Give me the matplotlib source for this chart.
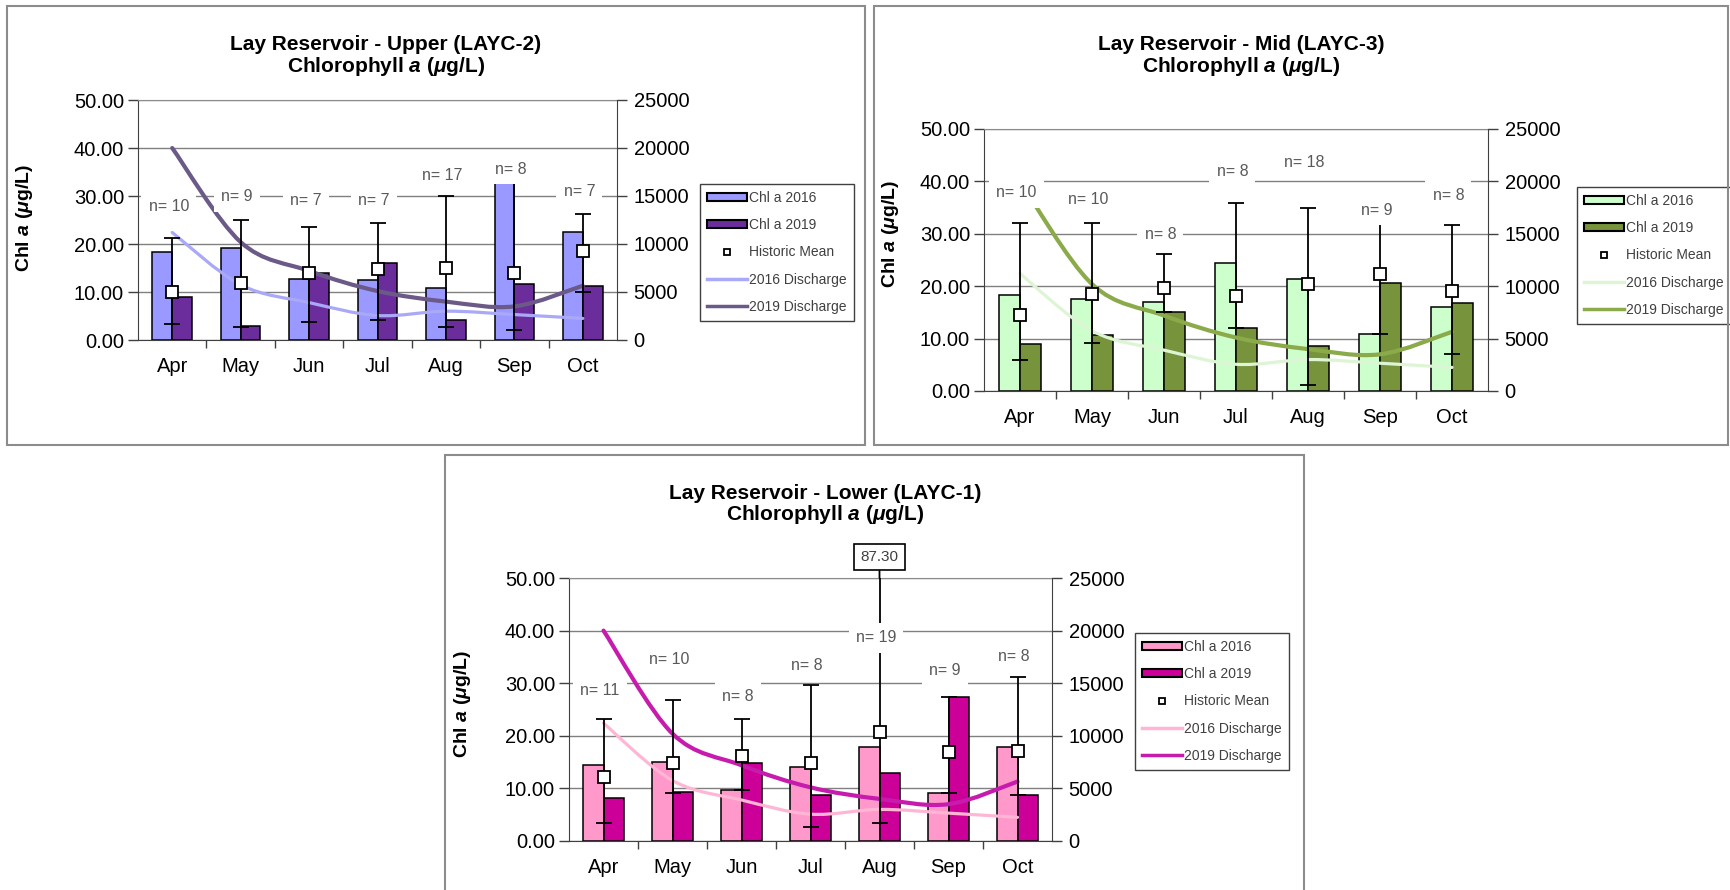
import numpy as np
import matplotlib.pyplot as plt
from matplotlib.path import Path
from matplotlib.patches import PathPatch, Patch, Rectangle
from matplotlib.lines import Line2D
from matplotlib.ticker import FormatStrFormatter

plt.rcParams['font.family'] = ['Liberation Sans', 'DejaVu Sans']
plt.rcParams['mathtext.fontset'] = 'custom'
plt.rcParams['mathtext.rm'] = 'Liberation Sans:bold'
plt.rcParams['mathtext.it'] = 'Liberation Sans:italic:bold'
plt.rcParams['mathtext.bf'] = 'Liberation Sans:bold'

months = ['Apr', 'May', 'Jun', 'Jul', 'Aug', 'Sep', 'Oct']

# monthly discharge (cfs), same dam release for every station
q2016 = [11200, 5750, 3900, 2550, 3000, 2650, 2250]
q2019 = [20000, 10200, 7200, 5100, 4000, 3500, 5650]

# LAYC-2 upper
up_2016 = [18.3, 19.1, 12.8, 12.4, 10.8, 32.8, 22.4]
up_2019 = [8.9, 2.9, 14.0, 16.1, 4.2, 11.7, 11.3]
up_mean = [10.1, 11.9, 14.0, 14.8, 15.1, 13.9, 18.6]
up_max = [21.2, 25.1, 23.6, 24.3, 29.9, 33.0, 26.3]
up_min = [3.3, 2.8, 3.8, 4.2, 2.8, 2.1, 10.1]
up_n = [10, 9, 7, 7, 17, 8, 7]

# LAYC-3 mid
mid_2016 = [18.3, 17.5, 16.9, 24.5, 21.4, 10.8, 16.0]
mid_2019 = [8.9, 10.7, 15.1, 12.0, 8.6, 20.7, 16.7]
mid_mean = [14.5, 18.6, 19.6, 18.1, 20.5, 22.3, 19.1]
mid_max = [32.0, 32.0, 26.1, 35.9, 34.9, 31.8, 31.7]
mid_min = [5.9, 9.2, 15.1, 12.0, 1.1, 10.8, 7.1]
mid_n = [10, 10, 8, 8, 18, 9, 8]

# LAYC-1 lower
low_2016 = [14.4, 15.1, 9.7, 14.1, 17.8, 9.1, 17.8]
low_2019 = [8.2, 9.4, 14.9, 8.7, 12.9, 27.4, 8.7]
low_mean = [12.2, 14.8, 16.2, 14.9, 20.8, 16.9, 17.2]
low_max = [23.1, 26.9, 23.1, 29.7, 87.3, 27.4, 31.1]
low_min = [3.5, 9.2, 9.7, 2.7, 3.4, 9.1, 8.7]
low_n = [11, 10, 8, 8, 19, 9, 8]

W, H = 1730, 890
fig = plt.figure(figsize=(17.3, 8.9), dpi=100)


def smooth(xs, ys):
    # bezier curve through the points, like a smoothed line in a spreadsheet
    pts = list(zip(xs, ys))
    n = len(pts)
    verts = [pts[0]]
    codes = [Path.MOVETO]
    for i in range(n - 1):
        p0 = pts[i - 1] if i > 0 else pts[i]
        p1 = pts[i]
        p2 = pts[i + 1]
        p3 = pts[i + 2] if i + 2 < n else pts[i + 1]
        c1 = (p1[0] + (p2[0] - p0[0]) / 6, p1[1] + (p2[1] - p0[1]) / 6)
        c2 = (p2[0] - (p3[0] - p1[0]) / 6, p2[1] - (p3[1] - p1[1]) / 6)
        verts += [c1, c2, p2]
        codes += [Path.CURVE4] * 3
    return Path(verts, codes)


def panel(box, rect, title, c16, c19, hmean, hmin, hmax, nobs, n_ypos,
          colors, leg_xy, ylab_xy, title_xy):
    # frame round each chart
    fig.patches.append(Rectangle((box[0] / W, 1 - box[3] / H),
                                 (box[2] - box[0]) / W, (box[3] - box[1]) / H,
                                 transform=fig.transFigure, fill=False,
                                 ec='#8c8c8c', lw=1.5))
    fig.text(title_xy[0] / W, 1 - title_xy[1] / H, title, ha='center',
             va='center', fontsize=15, fontweight='bold')
    fig.text(title_xy[0] / W, 1 - (title_xy[1] + 22) / H,
             r'Chlorophyll $\mathit{a}$ ($\mathit{\mu}$g/L)', ha='center',
             va='center', fontsize=15, fontweight='bold')

    l, t, r, b = rect
    ax = fig.add_axes([l / W, 1 - b / H, (r - l) / W, (b - t) / H])
    x = np.arange(len(months))
    w = 0.29
    ax.bar(x - w / 2, c16, w, color=colors[0], edgecolor='black', lw=1.1, zorder=2)
    ax.bar(x + w / 2, c19, w, color=colors[1], edgecolor='black', lw=1.1, zorder=2)
    ax.set_xlim(-0.5, 6.5)
    ax.set_ylim(0, 50)
    ax.set_yticks(np.arange(0, 51, 10))
    ax.yaxis.set_major_formatter(FormatStrFormatter('%.2f'))
    ax.set_xticks(x)
    ax.set_xticklabels(months)
    ax.set_xticks(x[:-1] + 0.5, minor=True)
    ax.tick_params(axis='x', which='major', length=0, pad=12, labelsize=14.5)
    ax.tick_params(axis='x', which='minor', length=6, width=1, color='#404040')
    ax.tick_params(axis='y', length=7, width=1, labelsize=14.5, pad=3, color='#404040')
    ax.yaxis.grid(True, color='#808080', lw=1)
    ax.set_axisbelow(True)
    ax.spines['top'].set_color('#8c8c8c')
    ax.spines['right'].set_visible(False)
    ax.spines['left'].set_color('#404040')
    ax.spines['bottom'].set_color('#404040')
    ax.set_ylabel(r'Chl $\mathit{a}$ ($\mathit{\mu}$g/L)', fontsize=14,
                  fontweight='bold')
    ax.yaxis.set_label_coords(*ylab_xy)

    # discharge on the right hand axis
    ax2 = ax.twinx()
    ax2.set_ylim(0, 25000)
    ax2.set_yticks(range(0, 25001, 5000))
    ax2.add_patch(PathPatch(smooth(x, q2016), fill=False, ec=colors[2],
                            lw=2.3, capstyle='round'))
    ax2.add_patch(PathPatch(smooth(x, q2019), fill=False, ec=colors[3],
                            lw=3.0, capstyle='round'))
    ax2.tick_params(axis='y', length=7, width=1, labelsize=14.5, pad=5,
                    color='#404040')
    for s in ['left', 'top', 'bottom']:
        ax2.spines[s].set_visible(False)
    ax2.spines['right'].set_color('#404040')

    # historic range, mean and sample counts on top
    ax3 = ax.twinx()
    ax3.set_ylim(0, 50)
    ax3.axis('off')
    ax3.errorbar(x, hmean, yerr=[np.subtract(hmean, hmin), np.subtract(hmax, hmean)],
                 fmt='s', ms=8.5, mfc='white', mec='black', mew=1.3,
                 ecolor='black', elinewidth=1.3, capsize=6, capthick=1.3)
    for xi, ni, yi in zip(x, nobs, n_ypos):
        ax3.text(xi - 0.05, yi, f'n= {ni}', ha='center', va='center',
                 fontsize=11.5, color='#595959',
                 bbox=dict(boxstyle='square,pad=0.45', fc='white', ec='none'))
    for xi, hi in zip(x, hmax):
        if hi > 50:
            ax3.annotate(f'{hi:.2f}', xy=(xi, 50), xytext=(0, 15),
                         textcoords='offset points', ha='center', va='center',
                         fontsize=11, color='#404040', annotation_clip=False,
                         bbox=dict(boxstyle='square,pad=0.4', fc='white',
                                   ec='black', lw=1.2),
                         arrowprops=dict(arrowstyle='-', lw=1.3, color='black',
                                         shrinkA=0, shrinkB=0))

    handles = [Patch(facecolor=colors[0], edgecolor='black', lw=1.5),
               Patch(facecolor=colors[1], edgecolor='black', lw=1.5),
               Line2D([], [], ls='none', marker='s', ms=5, mfc='white',
                      mec='black', mew=1.3),
               Line2D([], [], color=colors[2], lw=2.5),
               Line2D([], [], color=colors[3], lw=2.5)]
    labels = ['Chl a 2016', 'Chl a 2019', 'Historic Mean',
              '2016 Discharge', '2019 Discharge']
    leg = ax3.legend(handles, labels, loc='upper left',
                     bbox_to_anchor=(leg_xy[0] / W, 1 - leg_xy[1] / H),
                     bbox_transform=fig.transFigure, fancybox=False,
                     edgecolor='#404040', framealpha=1, fontsize=10,
                     handlelength=2.9, handleheight=0.55, handletextpad=0.15,
                     labelspacing=0.95, borderpad=0.5, borderaxespad=0,
                     labelcolor='#404040')
    leg.get_frame().set_linewidth(1)


panel((7, 6, 865, 445), (138, 100, 617, 340), 'Lay Reservoir - Upper (LAYC-2)',
      up_2016, up_2019, up_mean, up_min, up_max, up_n,
      [27.9, 29.8, 29.0, 29.0, 34.2, 35.6, 31.0],
      ['#9999FF', '#6C2D9C', '#A9A9F7', '#6B5A88'],
      (700, 184), (-0.215, 0.51), (386, 44))

panel((874, 6, 1728, 445), (984, 129, 1488, 391), 'Lay Reservoir - Mid (LAYC-3)',
      mid_2016, mid_2019, mid_mean, mid_min, mid_max, mid_n,
      [37.8, 36.5, 29.8, 41.8, 43.7, 34.4, 37.4],
      ['#CCFFCC', '#77933C', '#DDF5D5', '#8BAA4A'],
      (1577, 187), (-0.165, 0.60), (1241, 44))

panel((445, 455, 1304, 898), (569, 578, 1052, 841), 'Lay Reservoir - Lower (LAYC-1)',
      low_2016, low_2019, low_mean, low_min, low_max, low_n,
      [28.7, 34.6, 27.4, 33.3, 38.6, 32.5, 35.0],
      ['#FF99CC', '#CC0099', '#FFB6D5', '#C71BAE'],
      (1135, 633), (-0.199, 0.52), (825, 493))

fig.savefig('out.png', dpi=100)
